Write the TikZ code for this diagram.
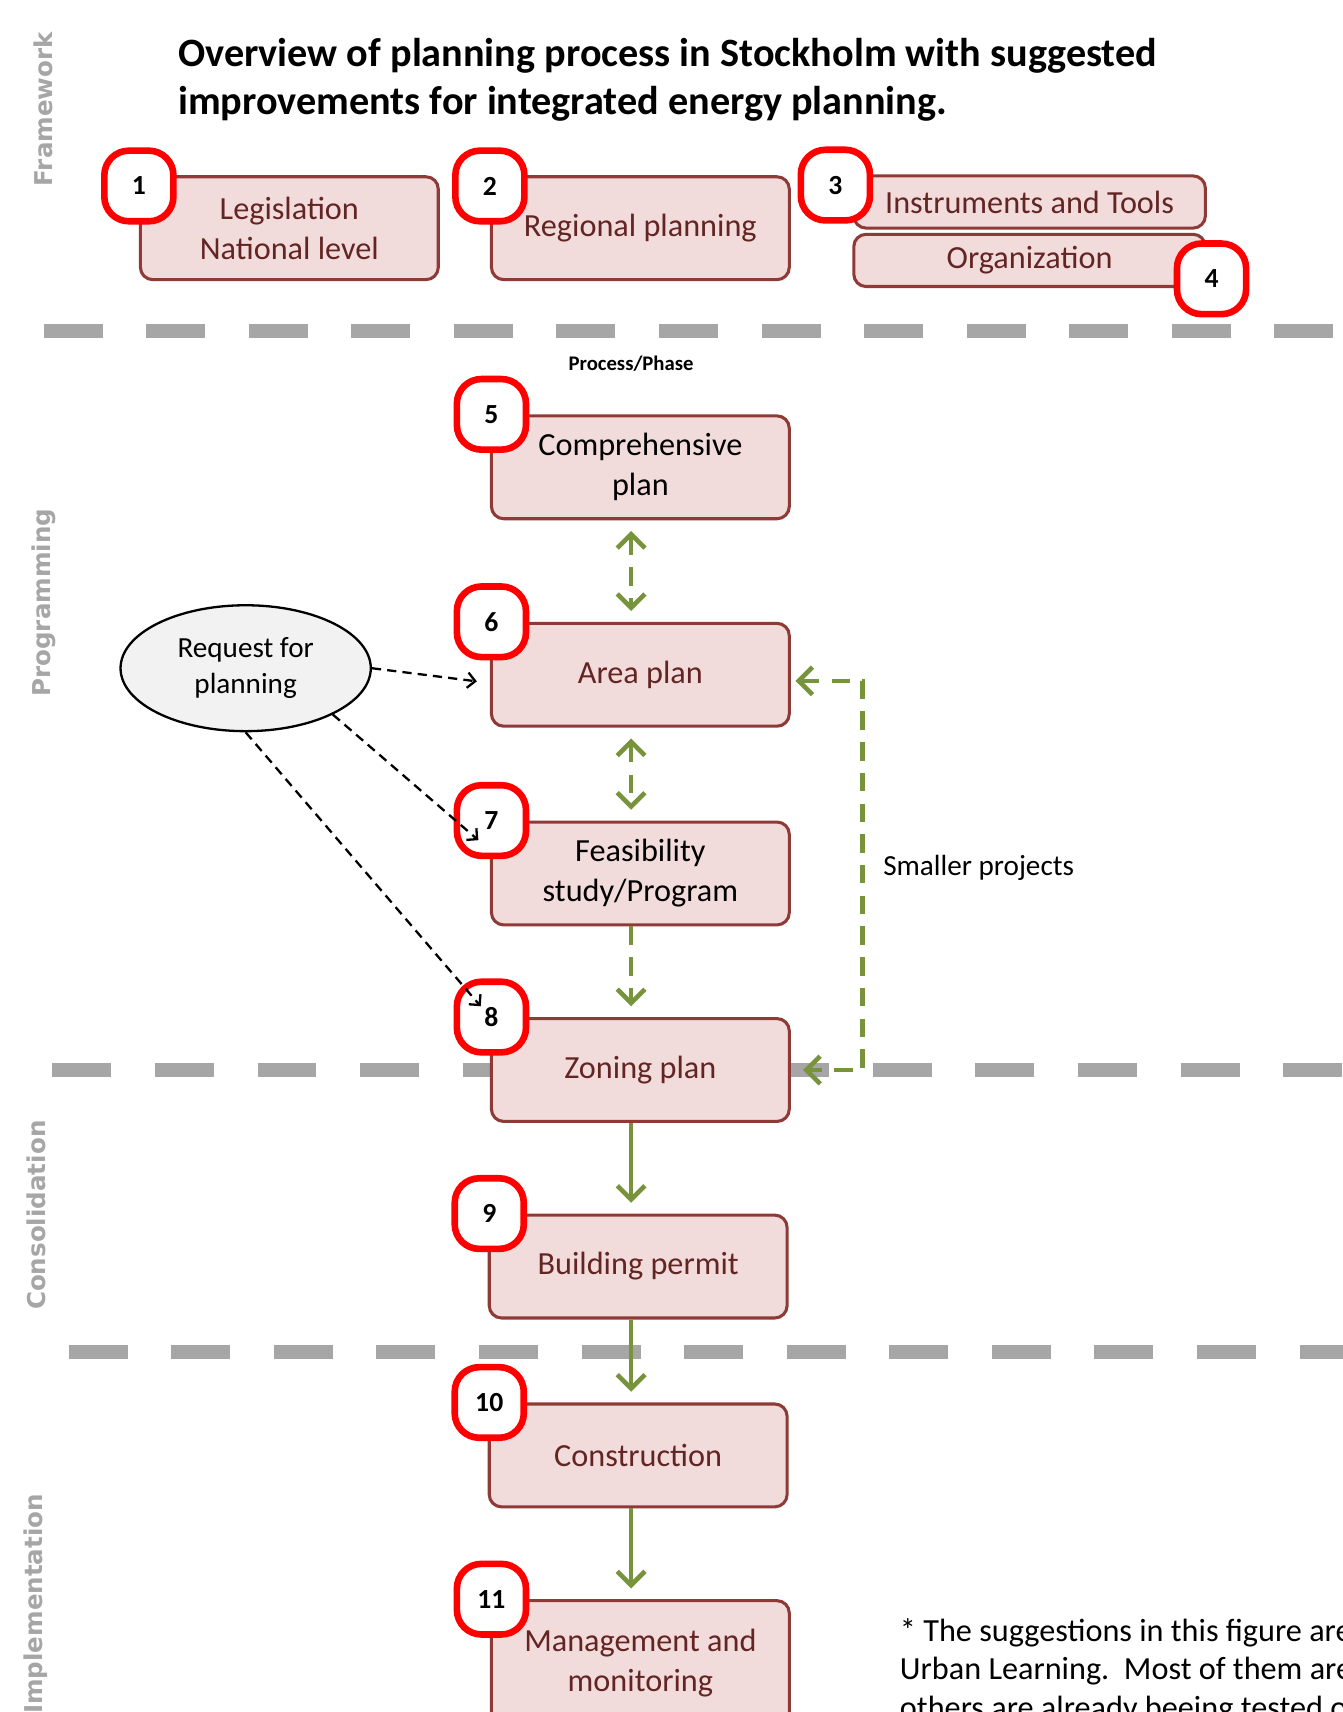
\documentclass[tikz,border=0pt]{standalone}
\usepackage{fontspec}
\setmainfont{Carlito}
\newfontfamily\sidefont{DejaVu Sans}
\usetikzlibrary{arrows.meta}
\usetikzlibrary{positioning}
\usetikzlibrary{shapes.geometric}
\definecolor{boxfill}{HTML}{F2DCDB}
\definecolor{boxline}{HTML}{8E3B38}
\definecolor{boxtext}{HTML}{632523}
\definecolor{ringred}{HTML}{FF0000}
\definecolor{flowgreen}{HTML}{77933C}
\definecolor{sepgray}{HTML}{A6A6A6}
\definecolor{reqfill}{HTML}{F2F2F2}
\tikzset{
    phase/.style = {draw=boxline,fill=boxfill,line width=2pt,rounded corners=8pt,minimum width=194pt,minimum height=67pt,align=center,text=boxtext,font=\fontsize{21}{26}\selectfont,inner sep=2pt},
    phasewide/.style = {phase,minimum width=229pt,minimum height=34pt},
    badge/.style = {draw=ringred,fill=white,line width=4.3pt,rounded corners=16pt,minimum width=45pt,minimum height=46pt,inner sep=0,font=\fontsize{18}{20}\selectfont\bfseries},
    request/.style = {ellipse,draw=black,fill=reqfill,line width=1.5pt,minimum width=163pt,minimum height=82pt,align=center,inner sep=0,font=\fontsize{19}{23.5}\selectfont},
    flow/.style = {draw=flowgreen,line width=3pt,shorten >=7pt,-{Straight Barb[length=9pt,width=18pt]}},
    flowdash/.style = {flow,dash pattern=on 12pt off 8pt},
    flowboth/.style = {flowdash,shorten <=7pt,{Straight Barb[length=9pt,width=18pt]}-{Straight Barb[length=9pt,width=18pt]}},
    req/.style = {dash pattern=on 6pt off 4pt,line width=1.5pt,-{Straight Barb[length=5pt,width=10pt]}},
    separator/.style = {draw=sepgray,line width=9pt,dash pattern=on 38.4pt off 28.4pt},
    sidelabel/.style = {rotate=90,inner sep=0,text=sepgray,font=\sidefont\fontsize{16}{18}\selectfont\bfseries}
}
\begin{document}
\begin{tikzpicture}[x=0.025cm,y=-0.025cm]
        \useasboundingbox[fill=white] (0,0) rectangle (1230,1568);
        % Title
        \node[anchor=north west,align=left,inner sep=0,font=\fontsize{26.2}{31.3}\selectfont\bfseries] (title) at (163,35)
            {Overview of planning process in Stockholm with suggested\\improvements for integrated energy planning.};
        % Stages
        \node[sidelabel] (framework) at (40,100) {Framework};
        \node[sidelabel] (programming) at (40,552) {Programming};
        \node[sidelabel] (consolidation) at (33,1113) {Consolidation};
        \node[sidelabel,anchor=east] (implementation) at (33,1368) {Implementation};
        \foreach \ly/\lx in {303/40,980/48,1238/63}
            \draw[separator] (\lx,\ly) -- (1230,\ly);
        % Framework
        \node[phase] (l1) at (265,209) {Legislation\\National level};
        \node[phase] (l2) at (586.5,209) {Regional planning};
        \node[phasewide] (l3) at (943,185) {Instruments and Tools};
        \node[phasewide] (l4) at (943,238.5) {Organization};
        \node[font=\fontsize{13.5}{16}\selectfont\bfseries] (phaselabel) at (578,333) {Process/Phase};
        % Phases
        \node[phase,text=black] (c5) at (586.5,428) {Comprehensive\\plan};
        \node[phase] (c6) at (586.5,618) {Area plan};
        \node[phase,text=black] (c7) at (586.5,800) {Feasibility\\study/Program};
        \node[phase] (c8) at (586.5,980) {Zoning plan};
        \node[phase] (c9) at (584.5,1160) {Building permit};
        \node[phase] (c10) at (584.5,1333) {Construction};
        \node[phase,minimum height=81pt] (c11) at (586.5,1523) {Management and\\monitoring};
        \node[request] (req) at (225,612) {Request for\\planning};
        % Badges
        \node[badge] (b1) at ([yshift=-7pt]l1.north west) {1};
        \node[badge] (b2) at ([yshift=-7pt]l2.north west) {2};
        \node[badge] (b3) at ([xshift=-11pt,yshift=-7pt]l3.north west) {3};
        \node[badge] (b4) at ([xshift=3pt,yshift=6pt]l4.south east) {4};
        \foreach \n in {5,...,11}
            \node[badge] (b\n) at ([xshift=1pt]c\n.north west) {\n};
        % Flow
        \coordinate (axis) at (578,0);
        \foreach \src/\dest in {c5/c6,c6/c7}
            \draw[flowboth] (\src.south -| axis) to (\dest.north -| axis);
        \draw[flowdash] (c7.south -| axis) to (c8.north -| axis);
        \foreach \src/\dest in {c8/c9,c9/c10,c10/c11}
            \draw[flow] (\src.south -| axis) to (\dest.north -| axis);
        % Smaller projects
        \coordinate (loop) at (790,0);
        \draw[flowboth,shorten <=3pt,shorten >=8pt] ([yshift=-4pt]c6.east) -- ([yshift=-4pt]c6.east -| loop) -- (c8.east -| loop) -- (c8.east);
        \node[anchor=west,font=\fontsize{19}{23}\selectfont] (small) at (804,795) {Smaller projects};
        % Requests
        \draw[req] (req.east) to ([xshift=-8.5pt,yshift=-4.3pt]c6.west);
        \draw[req] (req.-28) to ([xshift=-8.5pt,yshift=-12.8pt]b7.center);
        \draw[req] (req.south) to ([xshift=-7pt,yshift=7pt]b8.center);
        % Note
        \node[anchor=north west,align=left,inner sep=0,font=\fontsize{21}{25}\selectfont] (note) at (824,1482)
            {* The suggestions in this figure are\\Urban Learning.\ \ Most of them are\\others are already beeing tested o};
    \end{tikzpicture}
\end{document}
